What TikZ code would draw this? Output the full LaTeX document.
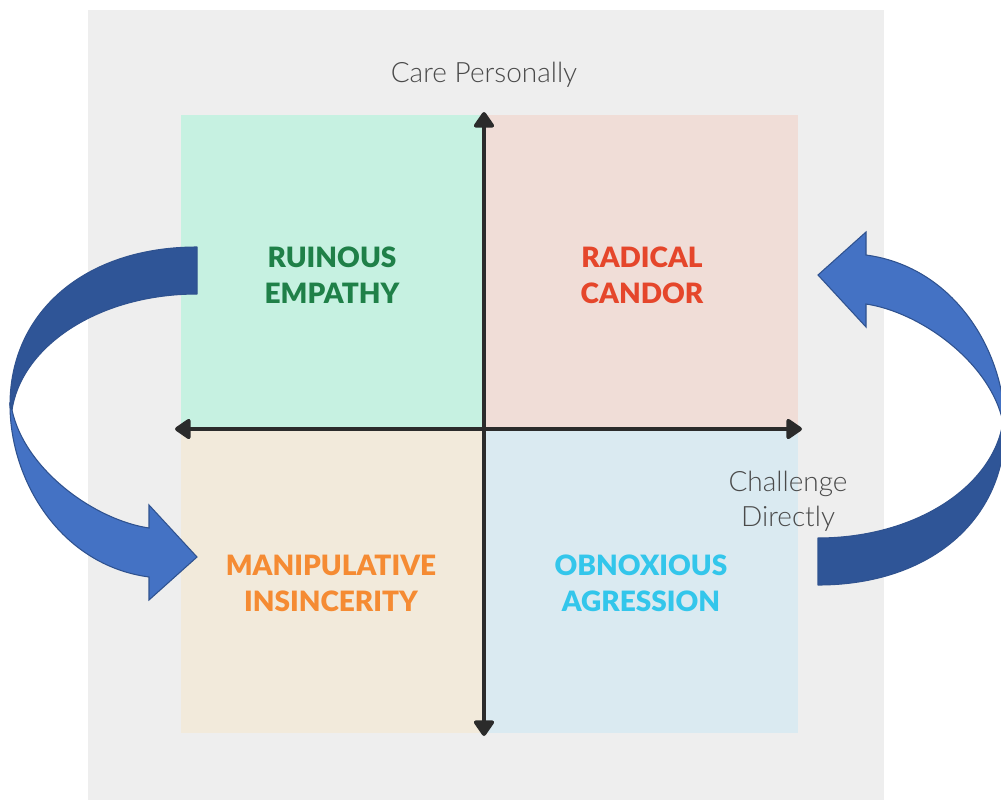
\documentclass[tikz,border=0pt]{standalone}
\usepackage{fontspec}
\setmainfont{Lato}
\newfontfamily\labelfont{Lato Light}
\newfontfamily\heavyfont{Lato Black}
\usetikzlibrary{arrows.meta}

\definecolor{panelgray}{HTML}{EEEEEE}
\definecolor{qgreen}{HTML}{C6F1E1}
\definecolor{qpink}{HTML}{F0DDD7}
\definecolor{qtan}{HTML}{F2EADB}
\definecolor{qblue}{HTML}{DAEAF1}
\definecolor{axisink}{HTML}{2B2B2B}
\definecolor{tgreen}{HTML}{1F8048}
\definecolor{tred}{HTML}{E5462B}
\definecolor{torange}{HTML}{F58B33}
\definecolor{tcyan}{HTML}{33C6EB}
\definecolor{labelink}{HTML}{4A4A4A}
\definecolor{banddark}{HTML}{2F5597}
\definecolor{bandlight}{HTML}{4472C4}
\definecolor{bandedge}{HTML}{2F528F}

% one curved band arrow: dark back part on top, light front part ending in the head
\newcommand\drawloopband{%
  \filldraw[banddark, draw=bandedge, line width=0.8pt, line join=round]
    (197,247) .. controls (85,247) and (10,312) .. (10,405)
    -- (12,410) .. controls (22,345) and (100,294) .. (197,294) -- cycle;
  \filldraw[bandlight, draw=bandedge, line width=0.8pt, line join=miter]
    (10,405) .. controls (10,480) and (60,565) .. (149,577)
    -- (149,600) -- (197,557) -- (149,505) -- (149,528)
    .. controls (95,520) and (25,470) .. (12,410) -- cycle;
}

\tikzset{
  axisline/.style={draw=axisink, line width=3pt,
    {Triangle[width=17pt,length=13pt,round]}-{Triangle[width=17pt,length=13pt,round]}},
  quadtitle/.style={font=\heavyfont\fontsize{21}{27}\selectfont, align=center, inner sep=0pt},
  axislabel/.style={font=\labelfont\fontsize{21}{26}\selectfont, text=labelink, align=center, inner sep=0pt}
}

\begin{document}
\begin{tikzpicture}[x=0.75pt, y=-0.75pt]
  \useasboundingbox (0,0) rectangle (1001,800);

  % backdrop panel
  \fill[panelgray] (88,10) rectangle (884,800);

  % quadrants
  \fill[qgreen] (181,115) rectangle (484,430);
  \fill[qpink]  (484,115) rectangle (798,430);
  \fill[qtan]   (181,430) rectangle (484,733);
  \fill[qblue]  (484,430) rectangle (798,733);

  % axes
  \coordinate (ytop) at (484,112);
  \coordinate (ybot) at (484,736);
  \coordinate (xleft) at (175,429);
  \coordinate (xright) at (802,429);
  \draw[axisline] (ybot) -- (ytop);
  \draw[axisline] (xleft) -- (xright);

  % axis labels
  \node[axislabel] (care) at (484,75) {Care Personally};
  \node[axislabel] (challenge) at (788,501) {Challenge\\Directly};

  % quadrant titles
  \node[quadtitle, text=tgreen]  (ruinous) at (332,275) {RUINOUS\\EMPATHY};
  \node[quadtitle, text=tred]    (radical) at (642,275) {RADICAL\\CANDOR};
  \node[quadtitle, text=torange] (manip)   at (331,583) {MANIPULATIVE\\INSINCERITY};
  \node[quadtitle, text=tcyan]   (obnox)   at (641,583) {OBNOXIOUS\\AGRESSION};

  % curved arrows
  \begin{scope}
    \drawloopband
  \end{scope}
  \begin{scope}[rotate around={180:(507.5,416)}]
    \drawloopband
  \end{scope}
\end{tikzpicture}
\end{document}
